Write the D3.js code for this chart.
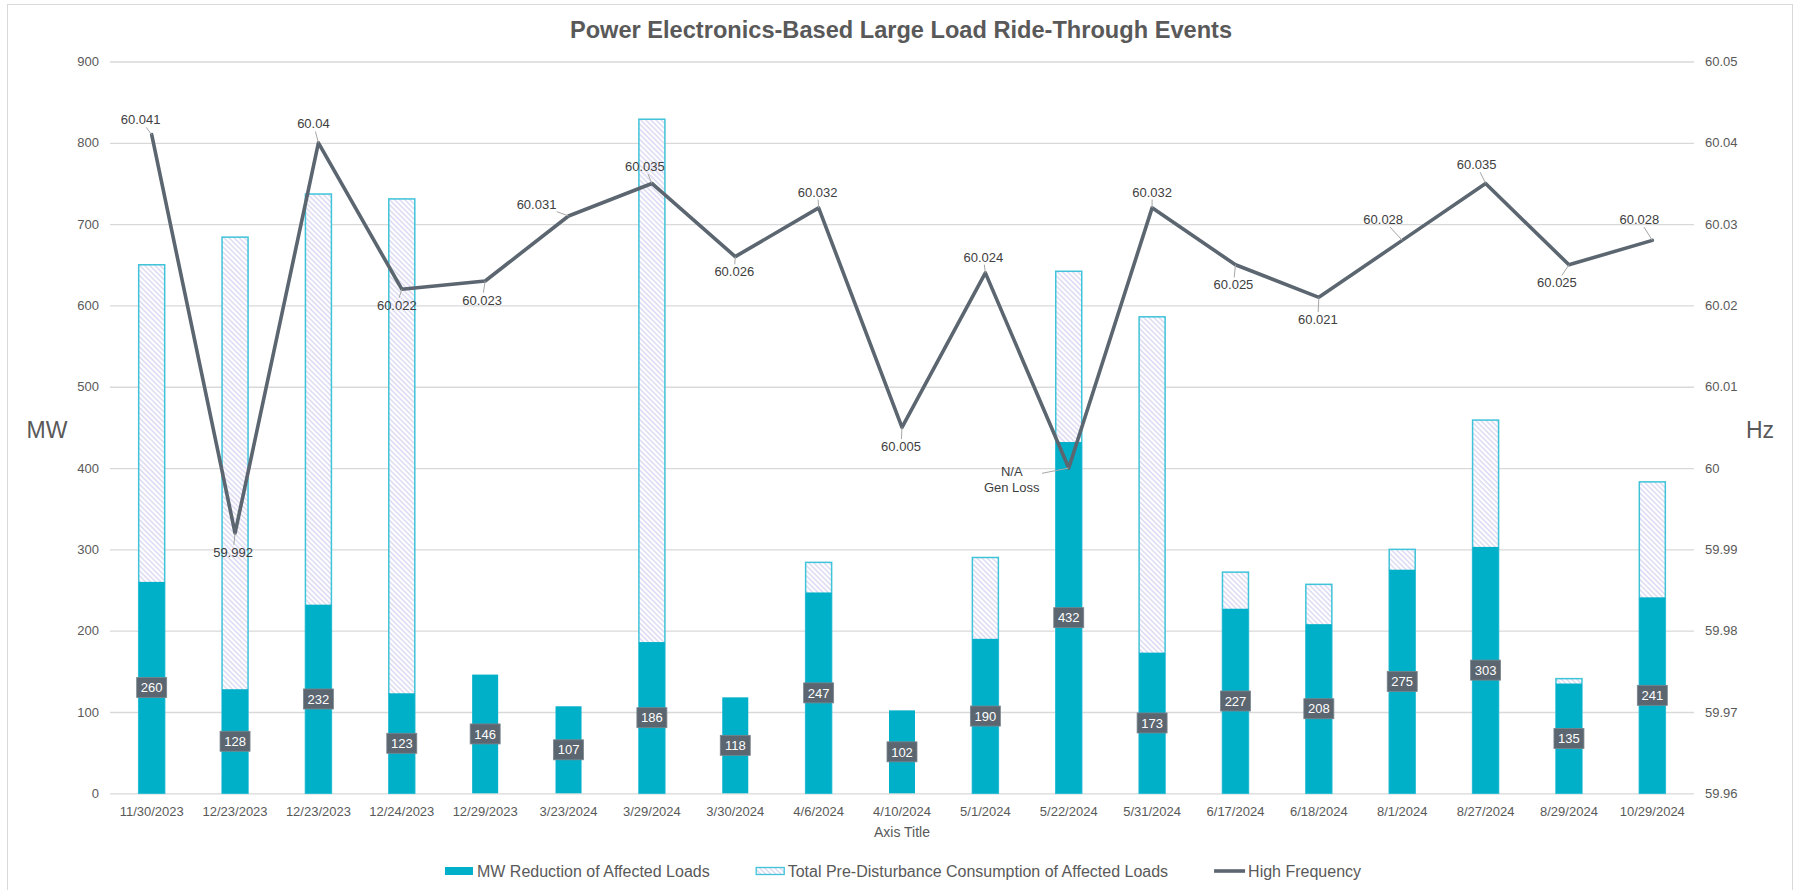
<!DOCTYPE html>
<html>
<head>
<meta charset="utf-8">
<script src="https://cdn.jsdelivr.net/npm/d3@7/dist/d3.min.js"></script>
<style>
  body { margin: 0; background: #fff; }
  svg { display: block; font-family: "Liberation Sans", Arial, sans-serif; }
</style>
</head>
<body>
<svg id="chart" width="1801" height="890"></svg>
<script>
// data
const dates = ["11/30/2023","12/23/2023","12/23/2023","12/24/2023","12/29/2023","3/23/2024","3/29/2024","3/30/2024","4/6/2024","4/10/2024","5/1/2024","5/22/2024","5/31/2024","6/17/2024","6/18/2024","8/1/2024","8/27/2024","8/29/2024","10/29/2024"]
const mwReduction = [260,128,232,123,146,107,186,118,247,102,190,432,173,227,208,275,303,135,241]
const totalConsumption = [650,684,737,731,null,null,829,null,284,null,290,642,586,272,257,300,459,141,383]
const highFrequency = [60.041,59.992,60.04,60.022,60.023,60.031,60.035,60.026,60.032,60.005,60.024,60.0,60.032,60.025,60.021,60.028,60.035,60.025,60.028]
const freqLabels = ["60.041","59.992","60.04","60.022","60.023","60.031","60.035","60.026","60.032","60.005","60.024","N/A|Gen Loss","60.032","60.025","60.021","60.028","60.035","60.025","60.028"]
const mwTicks = [0,100,200,300,400,500,600,700,800,900]
const hzTicks = [59.96,59.97,59.98,59.99,60,60.01,60.02,60.03,60.04,60.05]

// where each frequency label sits relative to its point (px), like the moved excel labels
const labelOffsets = [[-11,-15],[-2,19],[-5,-19],[-5,16],[-3,19],[-32,-12],[-7,-17],[-1,15],[-1,-16],[-1,19],
                      [-2,-16],[-57,11],[0,-16],[-2,20],[-1,22],[-19,-21],[-9,-19],[-12,18],[-13,-21]]

const teal = "#00AFC8", slate = "#5B6670", txt = "#595959"
const x0 = 110, x1 = 1694, yTop = 61.5, yBot = 793.3

const svg = d3.select("#chart")

// chart area border
svg.append("rect").attr("x", 7.5).attr("y", 4.5).attr("width", 1785).attr("height", 900)
   .attr("fill", "#fff").attr("stroke", "#D9D9D9")

var defs = svg.append("defs")
var pat = defs.append("pattern").attr("id", "hatch").attr("patternUnits", "userSpaceOnUse")
   .attr("width", 3.6).attr("height", 3.6).attr("patternTransform", "rotate(-45)")
pat.append("rect").attr("width", 3.6).attr("height", 3.6).attr("fill", "#fff")
pat.append("line").attr("x1", 1).attr("x2", 1).attr("y1", 0).attr("y2", 3.6)
   .attr("stroke", "#CFCCEE").attr("stroke-width", 1.1)

var x = d3.scaleBand().domain(d3.range(dates.length)).range([x0, x1])
var y = d3.scaleLinear().domain([0, 900]).range([yBot, yTop])
var yR = d3.scaleLinear().domain([59.96, 60.05]).range([yBot, yTop])
var cx = i => x(i) + x.bandwidth() / 2
const barW = 26

// title
svg.append("text").attr("x", 901).attr("y", 38).attr("text-anchor", "middle")
   .attr("font-size", 23.6).attr("font-weight", "bold").attr("fill", txt)
   .text("Power Electronics-Based Large Load Ride-Through Events")

// left axis + gridlines
var gl = svg.append("g").attr("transform", `translate(${x0},0)`)
   .call(d3.axisLeft(y).tickValues(mwTicks).tickSizeInner(-(x1 - x0)).tickSizeOuter(0).tickPadding(11))
gl.select(".domain").remove()
gl.selectAll(".tick line").attr("stroke", "#D9D9D9").attr("stroke-width", 1.3)
gl.selectAll(".tick text").attr("fill", txt).attr("font-size", 13).attr("font-family", "Liberation Sans, Arial")

// right axis
var gr = svg.append("g").attr("transform", `translate(${x1},0)`)
   .call(d3.axisRight(yR).tickValues(hzTicks).tickSize(0).tickPadding(11).tickFormat(d => String(+d.toFixed(2))))
gr.select(".domain").remove()
gr.selectAll(".tick text").attr("fill", txt).attr("font-size", 13).attr("font-family", "Liberation Sans, Arial")

// category axis
var gb = svg.append("g").attr("transform", `translate(0,${yBot})`)
   .call(d3.axisBottom(x).tickSize(0).tickPadding(13).tickFormat(i => dates[i]))
gb.select(".domain").remove()
gb.selectAll(".tick text").attr("fill", txt).attr("font-size", 13).attr("font-family", "Liberation Sans, Arial")

svg.append("text").attr("x", 902).attr("y", 837).attr("text-anchor", "middle")
   .attr("font-size", 14).attr("fill", txt).text("Axis Title")
svg.append("text").attr("x", 47).attr("y", 438).attr("text-anchor", "middle")
   .attr("font-size", 23).attr("fill", txt).text("MW")
svg.append("text").attr("x", 1760).attr("y", 438).attr("text-anchor", "middle")
   .attr("font-size", 23).attr("fill", txt).text("Hz")

// total consumption (hatched), drawn first so the reduction bar sits over it
svg.append("g").selectAll("rect")
   .data(totalConsumption.map((v, i) => ({v, i})).filter(d => d.v != null))
   .join("rect")
   .attr("x", d => cx(d.i) - barW / 2).attr("width", barW)
   .attr("y", d => y(d.v)).attr("height", d => y(0) - y(d.v))
   .attr("fill", "url(#hatch)").attr("stroke", "#3FC3D9").attr("stroke-width", 1.5)

svg.append("g").selectAll("rect")
   .data(mwReduction)
   .join("rect")
   .attr("x", (d, i) => cx(i) - barW / 2).attr("width", barW)
   .attr("y", d => y(d)).attr("height", d => y(0) - y(d))
   .attr("fill", teal)

// frequency line
var line = d3.line().x((d, i) => cx(i)).y(d => yR(d))
svg.append("path").datum(highFrequency).attr("d", line)
   .attr("fill", "none").attr("stroke", slate).attr("stroke-width", 3.6)
   .attr("stroke-linejoin", "round").attr("stroke-linecap", "round")

// data label boxes on the reduction bars
var lb = svg.append("g").selectAll("g").data(mwReduction).join("g")
   .attr("transform", (d, i) => `translate(${cx(i)},${y(d / 2)})`)
lb.append("rect").attr("x", -15).attr("y", -10).attr("width", 30).attr("height", 20)
   .attr("fill", slate).attr("stroke", "#7B858D").attr("stroke-width", 0.8)
lb.append("text").attr("text-anchor", "middle").attr("dy", "0.36em")
   .attr("font-size", 13).attr("fill", "#fff").text(d => d)

// frequency labels with leader lines
var fl = svg.append("g")
highFrequency.forEach(function(v, i) {
    var px = cx(i), py = yR(v)
    var lx = px + labelOffsets[i][0], ly = py + labelOffsets[i][1]
    var parts = freqLabels[i].split("|")
    var t = fl.append("text").attr("text-anchor", "middle").attr("font-size", 13).attr("fill", "#404040")
    parts.forEach(function(p, k) {
        t.append("tspan").attr("x", lx).attr("y", ly + (k - (parts.length - 1) / 2) * 16).attr("dy", "0.36em").text(p)
    })
    var b = t.node().getBBox()
    var pad = 2
    var bx0 = b.x - pad, bx1 = b.x + b.width + pad, by0 = b.y, by1 = b.y + b.height
    // nearest point of the box to the data point
    var nx = Math.max(bx0, Math.min(px, bx1)), ny = Math.max(by0, Math.min(py, by1))
    var gap = Math.hypot(px - nx, py - ny)
    if (gap > 6) {
        // leave from the box edge toward the label centre direction
        var ccx = b.x + b.width / 2, ccy = b.y + b.height / 2
        var dx = px - ccx, dy = py - ccy
        var s = Math.min(dx !== 0 ? (b.width / 2 + pad) / Math.abs(dx) : Infinity, dy !== 0 ? (b.height / 2) / Math.abs(dy) : Infinity)
        var sx = ccx + dx * s, sy = ccy + dy * s
        fl.insert("line", ":first-child").attr("x1", sx).attr("y1", sy).attr("x2", px).attr("y2", py)
          .attr("stroke", "#A6A6A6").attr("stroke-width", 1)
    }
})

// legend
var legend = svg.append("g")
var items = [
    {name: "MW Reduction of Affected Loads", kind: "solid"},
    {name: "Total Pre-Disturbance Consumption of Affected Loads", kind: "hatch"},
    {name: "High Frequency", kind: "line"}
]
var lx = 0
var ly = 871
items.forEach(function(it, k) {
    var g = legend.append("g").attr("transform", `translate(${lx},0)`)
    if (it.kind == "solid") {
        g.append("rect").attr("x", 0).attr("y", ly - 4).attr("width", 28).attr("height", 8).attr("fill", teal)
    } else if (it.kind == "hatch") {
        g.append("rect").attr("x", 0.5).attr("y", ly - 3.5).attr("width", 28).attr("height", 7)
         .attr("fill", "url(#hatch)").attr("stroke", "#3FC3D9").attr("stroke-width", 1.3)
    } else {
        g.append("line").attr("x1", 0).attr("x2", 31).attr("y1", ly).attr("y2", ly)
         .attr("stroke", slate).attr("stroke-width", 3.6)
    }
    var tx = g.append("text").attr("x", it.kind == "line" ? 34 : 32).attr("y", ly).attr("dy", "0.36em")
       .attr("font-size", 16).attr("fill", txt).text(it.name)
    lx += (it.kind == "line" ? 34 : 32) + tx.node().getComputedTextLength() + 46
})
var lw = lx - 46
legend.attr("transform", `translate(${903 - lw / 2},0)`)
</script>
</body>
</html>
